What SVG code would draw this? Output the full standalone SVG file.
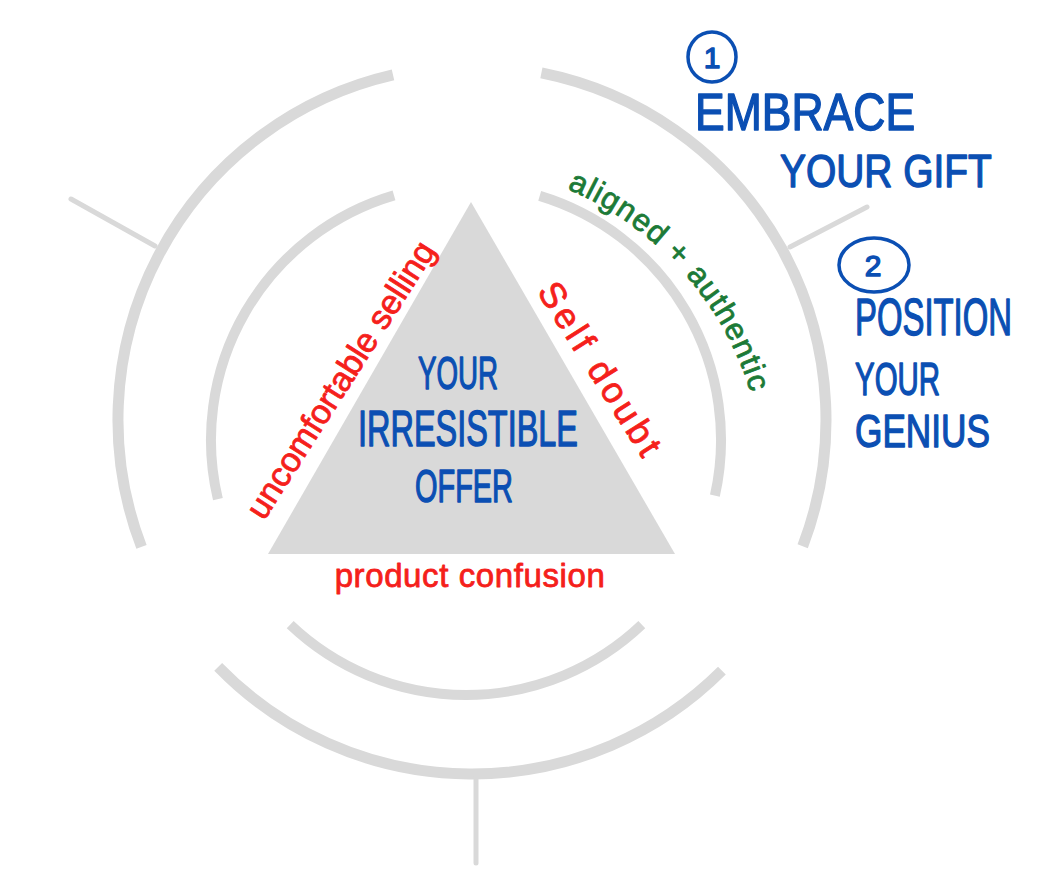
<svg xmlns="http://www.w3.org/2000/svg" width="1042" height="884" viewBox="0 0 1042 884">
  <style>
    .ring-o { fill: none; stroke: #d9d9d9; stroke-width: 11; }
    .ring-i { fill: none; stroke: #d9d9d9; stroke-width: 10; }
    .spoke { stroke: #d9d9d9; stroke-width: 5; stroke-linecap: round; }
    .blue { fill: #0b4fb3; stroke: #0b4fb3; stroke-width: 1.4; stroke-linejoin: round; font-family: "Liberation Sans", Arial, sans-serif; }
    .red { fill: #f5201b; stroke: #f5201b; stroke-width: 0.8; stroke-linejoin: round; font-family: "Liberation Sans", Arial, sans-serif; }
    .green { fill: #1c7a37; stroke: #1c7a37; stroke-width: 0.8; stroke-linejoin: round; font-family: "Liberation Sans", Arial, sans-serif; }
    .num { fill: none; stroke: #0b4fb3; stroke-width: 3.5; }
  </style>
  <defs>
    <path id="greenPath" d="M 567.0 188.8 A 325 325 0 0 1 760.1 431.6"/>
  </defs>
  <rect width="1042" height="884" fill="#ffffff"/>

  <g id="rings">
    <path class="ring-o" d="M 141.5 546.9 A 354 354 0 0 1 393.0 74.9"/>
    <path class="ring-o" d="M 541.4 72.9 A 354 354 0 0 1 802.7 546.3"/>
    <path class="ring-o" d="M 721.9 670.7 A 354 354 0 0 1 218.2 666.8"/>
    <path class="ring-i" d="M 217.9 499.1 A 255 255 0 0 1 394.0 195.4"/>
    <path class="ring-i" d="M 539.7 195.9 A 255 255 0 0 1 714.9 495.6"/>
    <path class="ring-i" d="M 641.8 624.7 A 255 255 0 0 1 290.2 624.7"/>
  </g>

  <g id="connectors">
    <line class="spoke" x1="71" y1="199" x2="155" y2="246"/>
    <line class="spoke" x1="790" y1="247" x2="867" y2="207"/>
    <line class="spoke" x1="476" y1="778" x2="476" y2="863"/>
  </g>

  <g id="offer">
    <polygon points="471,202 268,554 675,554" fill="#d9d9d9"/>
    <text class="blue" font-size="46" text-anchor="middle" transform="translate(458 389) scale(0.602 1)">YOUR</text>
    <text class="blue" font-size="50" text-anchor="middle" transform="translate(468 446) scale(0.649 1)">IRRESISTIBLE</text>
    <text class="blue" font-size="46" text-anchor="middle" transform="translate(464 502) scale(0.629 1)">OFFER</text>
  </g>

  <g id="uncomfortable-selling">
    <text class="red" x="341" y="391" font-size="34" text-anchor="middle" transform="rotate(-57.5 341 380)">uncomfortable selling</text>
  </g>

  <g id="self-doubt">
    <text class="red" x="600" y="382" font-size="36" text-anchor="middle" letter-spacing="4" transform="rotate(57.6 600 371)">Self doubt</text>
  </g>

  <g id="product-confusion">
    <text class="red" x="470" y="587" font-size="33" text-anchor="middle" letter-spacing="0.6">product confusion</text>
  </g>

  <g id="aligned-authentic">
    <text class="green" font-size="31" letter-spacing="1.2"><textPath href="#greenPath">aligned + authentic</textPath></text>
  </g>

  <g id="step1">
    <ellipse class="num" cx="712" cy="57" rx="24" ry="25"/>
    <text class="blue" x="712" y="68" font-size="30" text-anchor="middle">1</text>
    <text class="blue" font-size="52" transform="translate(695 130) scale(0.856 1)">EMBRACE</text>
    <text class="blue" font-size="47" transform="translate(780 187) scale(0.828 1)">YOUR GIFT</text>
  </g>

  <g id="step2">
    <ellipse class="num" cx="874" cy="265" rx="35" ry="27"/>
    <text class="blue" x="873" y="276" font-size="30" text-anchor="middle">2</text>
    <text class="blue" font-size="52" transform="translate(855 335) scale(0.632 1)">POSITION</text>
    <text class="blue" font-size="46" transform="translate(855 395) scale(0.64 1)">YOUR</text>
    <text class="blue" font-size="47" transform="translate(855 447) scale(0.749 1)">GENIUS</text>
  </g>
</svg>
